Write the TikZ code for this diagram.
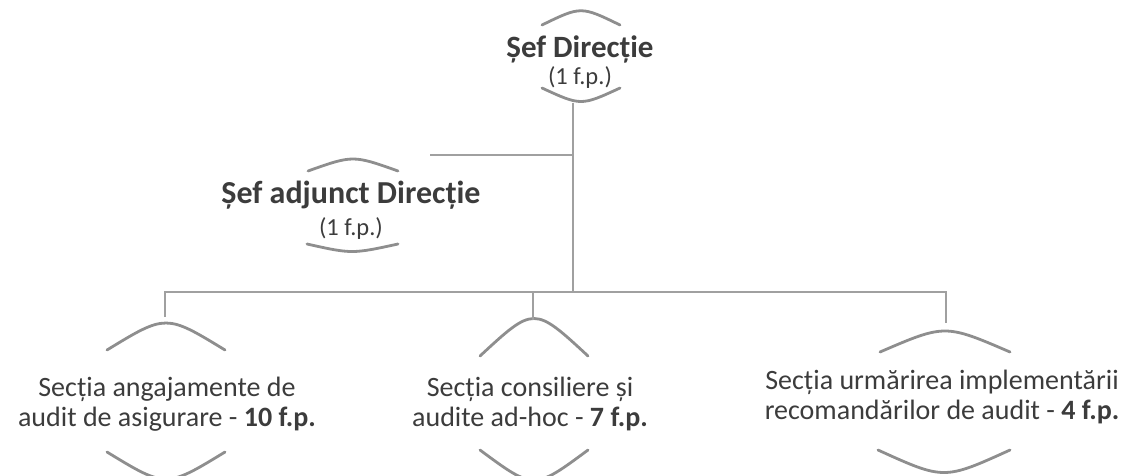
\documentclass[tikz,border=0pt]{standalone}
\usepackage{fontspec}
\setmainfont{Carlito}
\definecolor{txt}{HTML}{3C3C3C}
\definecolor{ln}{HTML}{A0A0A0}
\definecolor{arcc}{HTML}{8E8E8E}
\begin{document}
\begin{tikzpicture}[x=1pt,y=-1pt,
  conn/.style={draw=ln,line width=2.6pt},
  bow/.style={draw=arcc,line width=2.8pt,line cap=round},
  big/.style={text=txt,inner sep=0pt,anchor=base,font=\bfseries\fontsize{31}{36}\selectfont},
  small/.style={text=txt,inner sep=0pt,font=\fontsize{24.5}{26}\selectfont},
  sect/.style={text=txt,inner sep=0pt,align=center,font=\fontsize{28}{30}\selectfont}]
\useasboundingbox (0,0) rectangle (1137,475);
% top node
\node[big] (dir) at (580,57) {Șef Direcție};
\node[small] (dirfp) at (580,78) {(1 f.p.)};
\draw[bow] (542,25) .. controls (581,6) .. (620,25);
\draw[bow] (542,88) .. controls (581,106) .. (620,88);
% deputy
\node[big,font=\bfseries\fontsize{32}{36}\selectfont] (adj) at (351,203) {Șef adjunct Direcție};
\node[small] (adjfp) at (351,229) {(1 f.p.)};
\draw[bow] (308,171) .. controls (353,155) .. (398,171);
\draw[bow] (307,244) .. controls (352,254) .. (398,244);
% sections
\node[sect] (s1) at (167,404) {Secția angajamente de\\audit de asigurare - \textbf{10 f.p.}};
\node[sect] (s2) at (530,404) {Secția consiliere și\\audite ad-hoc - \textbf{7 f.p.}};
\node[sect] (s3) at (942,397) {Secția urmărirea implementării\\recomandărilor de audit - \textbf{4 f.p.}};
\draw[bow] (107,350) .. controls (166,314) .. (225,350);
\draw[bow] (107,452) .. controls (166,488) .. (225,452);
\draw[bow] (480,356) .. controls (534,306) .. (588,356);
\draw[bow] (480,450) .. controls (534,490) .. (588,450);
\draw[bow] (880,352) .. controls (945,324) .. (1010,352);
\draw[bow] (878,450) .. controls (944,480) .. (1010,450);
% connectors
\coordinate (t0) at (573,103);
\coordinate (tj) at (573,155);
\coordinate (aj) at (430,155);
\coordinate (tb) at (573,292);
\coordinate (b1) at (165,292);
\coordinate (b2) at (533,292);
\coordinate (b3) at (946,292);
\coordinate (d1) at (165,317);
\coordinate (d2) at (533,320);
\coordinate (d3) at (946,323);
\draw[conn] (t0) -- (tb);
\draw[conn] (tj) -- (aj);
\draw[conn] (d1) -- (b1) -- (b3) -- (d3);
\draw[conn] (b2) -- (d2);
\end{tikzpicture}
\end{document}
